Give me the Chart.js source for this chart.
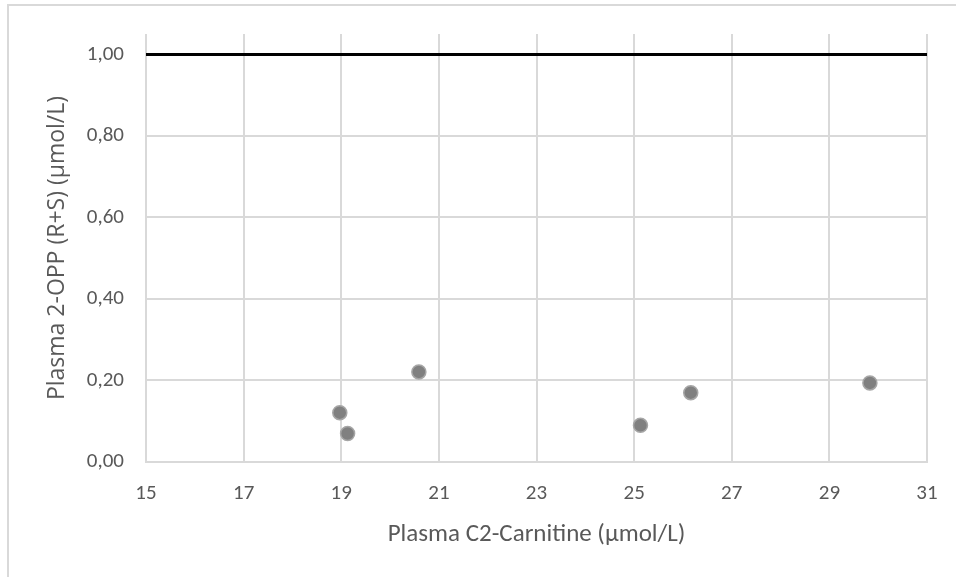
<!DOCTYPE html>
<html>
<head>
<meta charset="utf-8">
<script src="https://cdn.jsdelivr.net/npm/chart.js@4"></script>
<style>
  html, body { margin: 0; padding: 0; background: #fff; overflow: hidden; }
  #wrap { position: relative; width: 956px; height: 577px; }
  #frame { position: absolute; left: 7px; top: 4px; width: 1000px; height: 1000px;
           border-left: 2px solid #d9d9d9; border-top: 2px solid #d9d9d9; box-sizing: border-box; }
  canvas { position: absolute; left: 0; top: 0; }
</style>
</head>
<body>
<div id="wrap">
  <div id="frame"></div>
  <canvas id="scatterChart" width="956" height="577"></canvas>
</div>
<script>
// values
const c2Carnitine = [18.97, 19.13, 20.59, 25.13, 26.16, 29.83];
const opp2 = [0.121, 0.070, 0.221, 0.090, 0.170, 0.194];
const refLineX = [15, 31];
const refLineY = [1.0, 1.0];
const yTicks = [0, 0.2, 0.4, 0.6, 0.8, 1.0];
const xTicks = [15, 17, 19, 21, 23, 25, 27, 29, 31];

const textColor = '#595959';
const gridColor = '#d9d9d9';
const tickFont = "'Carlito', 'Lato', sans-serif";

document.addEventListener('DOMContentLoaded', () => {
    const ctx = document.getElementById('scatterChart').getContext('2d');

    new Chart(ctx, {
        type: 'scatter',
        data: {
            datasets: [{
                label: 'Reference',
                type: 'line',
                data: refLineX.map((x, i) => ({ x: x, y: refLineY[i] })),
                borderColor: '#000000',
                borderWidth: 3,
                pointRadius: 0,
                fill: false
            }, {
                label: '2-OPP',
                data: c2Carnitine.map((x, i) => ({ x: x, y: opp2[i] })),
                backgroundColor: '#808080',
                borderColor: '#a6a6a6',
                borderWidth: 1.5,
                pointRadius: 7
            }]
        },
        options: {
            responsive: false,
            animation: false,
            layout: { padding: { top: 34, right: 29, left: 0, bottom: 0 } },
            plugins: {
                legend: { display: false },
                tooltip: { enabled: false }
            },
            scales: {
                x: {
                    type: 'linear',
                    min: 15,
                    max: 31,
                    afterBuildTicks: axis => { axis.ticks = xTicks.map(v => ({ value: v })); },
                    afterFit: axis => {
                        axis.height = 115;
                        axis.paddingLeft = 0;
                        axis.paddingRight = 0;
                    },
                    grid: { color: gridColor, lineWidth: 2, drawTicks: false },
                    border: { color: gridColor, width: 2 },
                    ticks: {
                        color: textColor,
                        padding: 19,
                        maxRotation: 0,
                        font: { family: tickFont, size: 21 }
                    },
                    title: {
                        display: true,
                        text: 'Plasma C2-Carnitine (µmol/L)',
                        color: textColor,
                        padding: { top: 0, bottom: 27 },
                        font: { family: tickFont, size: 25 }
                    }
                },
                y: {
                    min: 0,
                    max: 1.05,
                    afterBuildTicks: axis => { axis.ticks = yTicks.map(v => ({ value: v })); },
                    afterFit: axis => {
                        axis.width = 146;
                        axis.paddingTop = 0;
                        axis.paddingBottom = 0;
                    },
                    grid: { color: gridColor, lineWidth: 2, drawTicks: false },
                    border: { display: false },
                    ticks: {
                        color: textColor,
                        padding: 22,
                        font: { family: tickFont, size: 21 },
                        callback: v => v.toFixed(2).replace('.', ',')
                    },
                    title: {
                        display: true,
                        text: 'Plasma 2-OPP (R+S) (µmol/L)',
                        color: textColor,
                        padding: { top: 44, bottom: 0 },
                        font: { family: "'Open Sans', sans-serif", size: 23 }
                    }
                }
            }
        }
    });
});
</script>
</body>
</html>
